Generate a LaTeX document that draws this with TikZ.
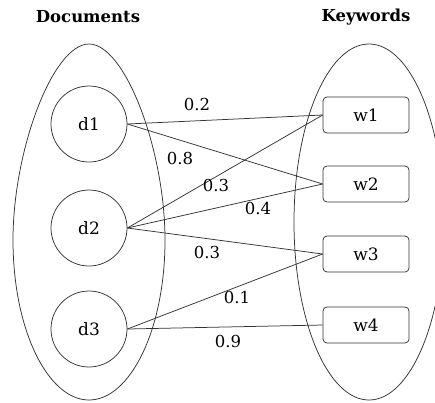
\documentclass[tikz,border=0pt]{standalone}
\usepackage{fontspec}
\setmainfont{DejaVu Serif}
\begin{document}
\begin{tikzpicture}[x=1pt,y=-1pt,
  ln/.style={line width=0.75pt, draw=black!80},
  title/.style={font=\fontsize{16.5}{18}\selectfont\bfseries, text=black, inner sep=0},
  doc/.style={circle, draw=black!80, line width=0.75pt, minimum size=76pt, inner sep=0, font=\fontsize{17}{19}\selectfont, text=black},
  kw/.style={rectangle, rounded corners=4pt, draw=black!80, line width=0.75pt, minimum width=86pt, minimum height=36pt, inner sep=0, font=\fontsize{17}{19}\selectfont, text=black},
  wt/.style={font=\fontsize{16.5}{18}\selectfont, text=black, inner sep=0}]
\useasboundingbox (0,0) rectangle (435,402);
\begin{scope}
\clip (0,0) rectangle (435,402);
\draw[ln] (89,44) .. controls (125,44) and (165,150) .. (165,240)
  .. controls (165,330) and (130,400) .. (89,400)
  .. controls (48,400) and (13,330) .. (13,240)
  .. controls (13,150) and (53,44) .. cycle;
\draw[ln] (369,222) ellipse [x radius=75, y radius=178];
\end{scope}
\node[title] (tdoc) at (88,17) {Documents};
\node[title] (tkw) at (366,17) {Keywords};
\node[doc] (d1) at (89,124) {d1};
\node[doc] (d2) at (89,228) {d2};
\node[doc] (d3) at (89,329) {d3};
\node[kw] (w1) at (366,115) {w1};
\node[kw] (w2) at (366,184) {w2};
\node[kw] (w3) at (366,254) {w3};
\node[kw] (w4) at (366,325) {w4};
\draw[ln] (d1.east) -- (w1.west);
\draw[ln] (d1.east) -- (w2.west);
\draw[ln] (d2.east) -- (w1.west);
\draw[ln] (d2.east) -- (w2.west);
\draw[ln] (d2.east) -- (w3.west);
\draw[ln] (d3.east) -- (w3.west);
\draw[ln] (d3.east) -- (w4.west);
\node[wt] (l1) at (197,104) {0.2};
\node[wt] (l2) at (180,158) {0.8};
\node[wt] (l3) at (216,185) {0.3};
\node[wt] (l4) at (258,208) {0.4};
\node[wt] (l5) at (207,252) {0.3};
\node[wt] (l6) at (237,297) {0.1};
\node[wt] (l7) at (228,341) {0.9};
\end{tikzpicture}
\end{document}
